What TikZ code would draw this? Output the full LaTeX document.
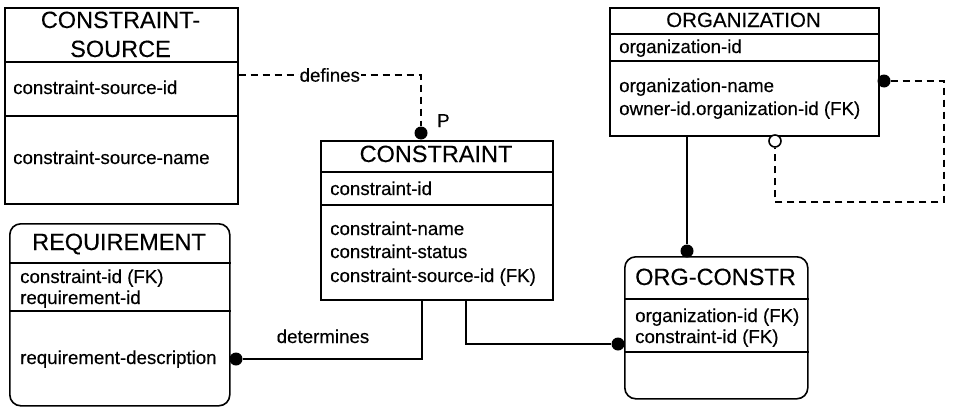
\documentclass[tikz,border=0pt]{standalone}
\usepackage{fontspec}
\setmainfont{Liberation Sans}[FakeBold=0.3]
\usepackage{tikz}

\begin{document}
\begin{tikzpicture}[
			x=1pt, y=-1pt,
			entity/.style={draw, line width=1.6pt, rectangle, inner sep=0pt, anchor=north west},
			depentity/.style={entity, rounded corners=11pt},
			title/.style={font=\fontsize{23.5}{27}\selectfont, anchor=base, inner sep=0pt},
			attr/.style={font=\fontsize{18.7}{22}\selectfont, anchor=base west, inner sep=0pt},
			lbl/.style={font=\fontsize{18.7}{22}\selectfont, inner sep=1pt, fill=white},
			rel/.style={line width=1.6pt},
			nonid/.style={rel, dash pattern=on 7pt off 5pt},
			dot/.style={circle, fill, inner sep=0pt, minimum size=13pt},
			odot/.style={circle, draw, fill=white, line width=1.6pt, inner sep=0pt, minimum size=12pt}
			]
			\useasboundingbox (0,0) rectangle (953,407);
			
			% --- Encje (ramki) ---
			\node[entity, minimum width=233, minimum height=196] (cs) at (4,7) {};
			\node[entity, minimum width=232, minimum height=159] (con) at (320,140) {};
			\node[entity, minimum width=269, minimum height=128] (org) at (609,7) {};
			\node[depentity, minimum width=220, minimum height=182] (req) at (9,223) {};
			\node[depentity, minimum width=183, minimum height=142] (oc) at (624,256) {};
			
			% --- Linie podziału ---
			\draw[rel] (cs.west |- 0,62) -- (cs.east |- 0,62);
			\draw[rel] (cs.west |- 0,116) -- (cs.east |- 0,116);
			\draw[rel] (con.west |- 0,172) -- (con.east |- 0,172);
			\draw[rel] (con.west |- 0,205) -- (con.east |- 0,205);
			\draw[rel] (org.west |- 0,34) -- (org.east |- 0,34);
			\draw[rel] (org.west |- 0,61) -- (org.east |- 0,61);
			\draw[rel] (req.west |- 0,263) -- (req.east |- 0,263);
			\draw[rel] (req.west |- 0,311) -- (req.east |- 0,311);
			\draw[rel] (oc.west |- 0,299) -- (oc.east |- 0,299);
			\draw[rel] (oc.west |- 0,352) -- (oc.east |- 0,352);
			
			% --- Nazwy i atrybuty ---
			\node[title] (cst1) at (120.5,28) {CONSTRAINT-};
			\node[title] (cst2) at (120.5,57) {SOURCE};
			\node[attr] (csk1) at (13,94) {constraint-source-id};
			\node[attr] (csa1) at (13,164) {constraint-source-name};
			
			\node[title] (cont) at (436,162) {CONSTRAINT};
			\node[attr] (conk1) at (330,195) {constraint-id};
			\node[attr] (cona1) at (330,235) {constraint-name};
			\node[attr] (cona2) at (330,258) {constraint-status};
			\node[attr] (cona3) at (330,282) {constraint-source-id (FK)};
			
			\node[title, font=\fontsize{20.5}{24}\selectfont] (orgt) at (743.5,27) {ORGANIZATION};
			\node[attr] (orgk1) at (619,53) {organization-id};
			\node[attr] (orga1) at (619,92) {organization-name};
			\node[attr] (orga2) at (619,115) {owner-id.organization-id (FK)};
			
			\node[title] (reqt) at (119,250) {REQUIREMENT};
			\node[attr] (reqk1) at (20,283) {constraint-id (FK)};
			\node[attr] (reqk2) at (20,304) {requirement-id};
			\node[attr] (reqa1) at (20,364) {requirement-description};
			
			\node[title] (oct) at (715.5,285) {ORG-CONSTR};
			\node[attr] (ock1) at (635,322) {organization-id (FK)};
			\node[attr] (ock2) at (635,343) {constraint-id (FK)};
			
			% --- Zakończenia związków ---
			\node[dot] (pdot) at (421,133) {};
			\node[dot] (orgdot) at (884,81) {};
			\node[odot] (odot) at (775,141) {};
			\node[dot] (ocdot) at (687,251) {};
			\node[dot] (ocdot2) at (618,344) {};
			\node[dot] (detdot) at (236,359) {};
			\coordinate (defstart) at (cs.east |- 0,75);
			\coordinate (rloop) at (944,202);
			
			% --- Związki ---
			\draw[nonid] (defstart) -- node[lbl] {defines} (defstart -| pdot) -- (pdot);
			\node[attr] (plbl) at (437,127) {P};
			\draw[nonid] (orgdot) -| (rloop) -| (odot.south);
			\draw[rel] (org.south -| ocdot) -- (ocdot);
			\draw[rel] ([xshift=29pt]con.south) |- (ocdot2);
			\draw[rel] (detdot) -| ([xshift=-15pt]con.south);
			\node[attr, anchor=base] (detlbl) at (323,343) {determines};
			
		\end{tikzpicture}
\end{document}
